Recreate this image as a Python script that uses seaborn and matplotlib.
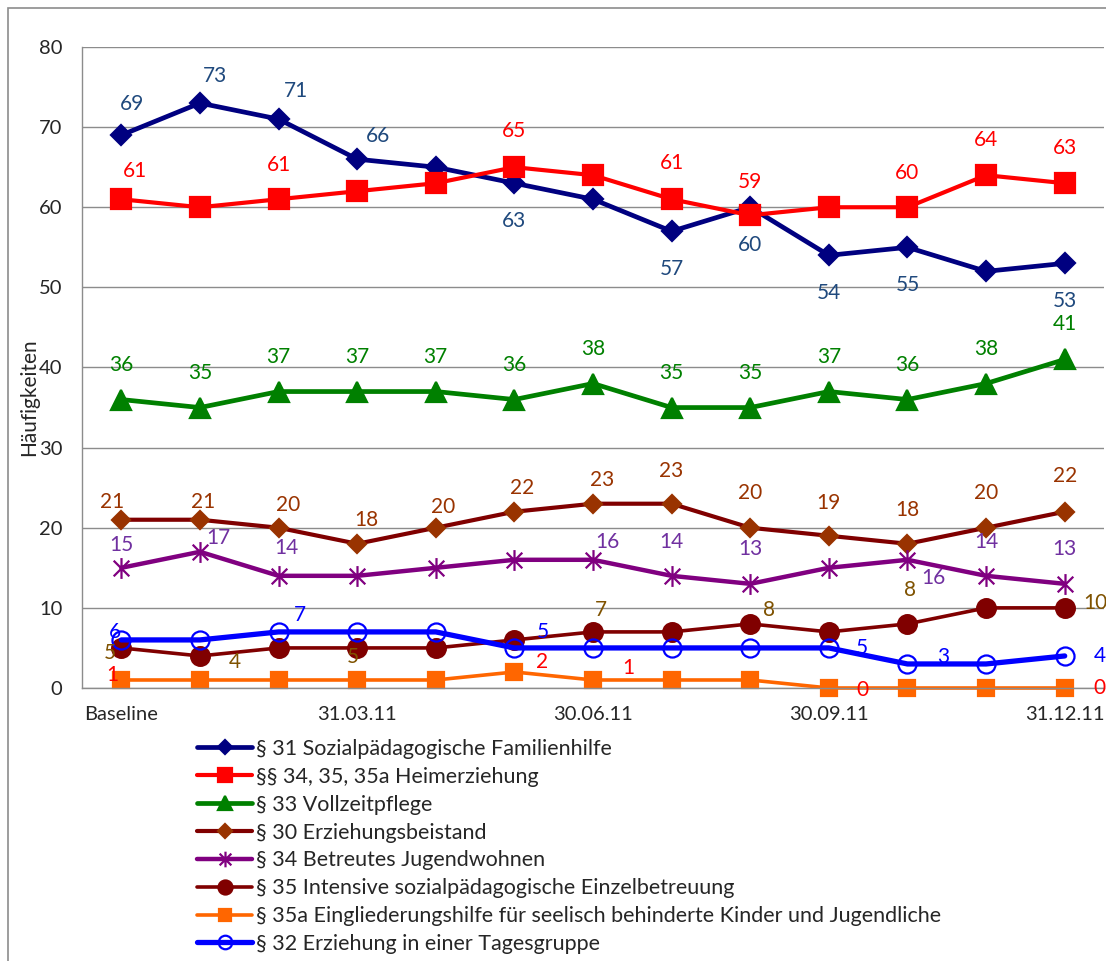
import numpy as np
import pandas as pd
import matplotlib
matplotlib.use("Agg")
import matplotlib.pyplot as plt
import seaborn as sns
from matplotlib.path import Path
from matplotlib.patches import Rectangle

# x categories (only every third one is labelled in the original)
x_labels = ["Baseline", "", "", "31.03.11", "", "", "30.06.11",
            "", "", "30.09.11", "", "", "31.12.11"]

# series values
familienhilfe = [69, 73, 71, 66, 65, 63, 61, 57, 60, 54, 55, 52, 53]
heimerziehung = [61, 60, 61, 62, 63, 65, 64, 61, 59, 60, 60, 64, 63]
vollzeitpflege = [36, 35, 37, 37, 37, 36, 38, 35, 35, 37, 36, 38, 41]
erziehungsbeistand = [21, 21, 20, 18, 20, 22, 23, 23, 20, 19, 18, 20, 22]
jugendwohnen = [15, 17, 14, 14, 15, 16, 16, 14, 13, 15, 16, 14, 13]
einzelbetreuung = [5, 4, 5, 5, 5, 6, 7, 7, 8, 7, 8, 10, 10]
eingliederungshilfe = [1, 1, 1, 1, 1, 2, 1, 1, 1, 0, 0, 0, 0]
tagesgruppe = [6, 6, 7, 7, 7, 5, 5, 5, 5, 5, 3, 3, 4]

series_names = [
    "§ 31 Sozialpädagogische Familienhilfe",
    "§§ 34, 35, 35a Heimerziehung",
    "§ 33 Vollzeitpflege",
    "§ 30 Erziehungsbeistand",
    "§ 34 Betreutes Jugendwohnen",
    "§ 35 Intensive sozialpädagogische Einzelbetreuung",
    "§ 35a Eingliederungshilfe für seelisch behinderte Kinder und Jugendliche",
    "§ 32 Erziehung in einer Tagesgruppe",
]
series_values = [familienhilfe, heimerziehung, vollzeitpflege, erziehungsbeistand,
                 jugendwohnen, einzelbetreuung, eingliederungshilfe, tagesgruppe]

# star marker like the Excel one (vertical bar + X)
star = Path([(0, -1), (0, 1), (-0.75, -0.75), (0.75, 0.75), (-0.75, 0.75), (0.75, -0.75)],
            [Path.MOVETO, Path.LINETO, Path.MOVETO, Path.LINETO, Path.MOVETO, Path.LINETO])

# styling per series: line colour, marker, size, face, edge, line width, label colour
styles = [
    dict(color="#000080", marker="D", ms=10, mfc="#000080", mec="#000080", lw=3.4, tc="#1F497D"),
    dict(color="#FF0000", marker="s", ms=14, mfc="#FF0000", mec="#FF0000", lw=3.0, tc="#FF0000"),
    dict(color="#008000", marker="^", ms=14, mfc="#008000", mec="#008000", lw=3.4, tc="#008000"),
    dict(color="#800000", marker="D", ms=9.5, mfc="#993300", mec="#993300", lw=3.0, tc="#993300"),
    dict(color="#800080", marker=star, ms=15, mfc="#800080", mec="#800080", lw=3.2, tc="#7030A0"),
    dict(color="#800000", marker="o", ms=13.5, mfc="#800000", mec="#800000", lw=2.6, tc="#7F5200"),
    dict(color="#FF6600", marker="s", ms=12, mfc="#FF6600", mec="#FF6600", lw=2.6, tc="#FF0000"),
    dict(color="#0000FF", marker="o", ms=13, mfc="none", mec="#0000FF", lw=3.8, tc="#0000FF"),
]

# which data labels are shown and where (index, dx px, dy px; dy > 0 means below)
label_spots = [
    [(0, 11, -31), (1, 15, -27), (2, 17, -28), (3, 21, -23), (5, 0, 38), (7, 0, 38),
     (8, 0, 38), (9, 0, 38), (10, 0, 38), (12, 0, 38)],
    [(0, 14, -28), (2, 0, -34), (5, 0, -36), (7, 0, -36), (8, 0, -33), (10, 0, -34),
     (11, 0, -35), (12, 0, -35)],
    [(i, 0, -35) for i in range(13)],
    [(0, -9, -18), (1, 3, -18), (2, 10, -23), (3, 9, -24), (4, 7, -21), (5, 8, -24),
     (6, 9, -24), (7, 0, -33), (8, 0, -35), (9, 0, -33), (10, 0, -34), (11, 0, -35), (12, 0, -36)],
    [(0, 0, -23), (1, 18, -14), (2, 8, -28), (6, 14, -18), (7, 0, -34), (8, 0, -35),
     (10, 26, 18), (11, 0, -34), (12, 0, -35)],
    [(0, -11, 5), (1, 35, 6), (3, -4, 9), (6, 8, -22), (8, 19, -14), (10, 3, -34), (12, 31, -5)],
    [(0, -9, -5), (5, 28, -10), (6, 35, -12), (9, 34, 2), (12, 35, 0)],
    [(0, -6, -8), (2, 21, -17), (5, 28, -16), (9, 33, 0), (10, 36, -7), (12, 35, 0)],
]

sns.set_style("white")
plt.rcParams["font.family"] = ["Lato", "DejaVu Sans"]

W, H = 1106, 961
fig = plt.figure(figsize=(W / 100, H / 100), dpi=100)
ax = fig.add_axes([82 / W, 1 - 688 / H, (1104 - 82) / W, (688 - 47) / H])

positions = np.arange(len(x_labels))
grey = "#8C8C8C"

for name, values, st in zip(series_names, series_values, styles):
    df = pd.DataFrame({"pos": positions, "value": values})
    sns.lineplot(data=df, x="pos", y="value", ax=ax, label=name, color=st["color"],
                 marker=st["marker"], markersize=st["ms"], markerfacecolor=st["mfc"],
                 markeredgecolor=st["mec"], markeredgewidth=1.6, linewidth=st["lw"],
                 clip_on=False)

for values, spots, st in zip(series_values, label_spots, styles):
    for i, dx, dy in spots:
        ax.annotate(str(values[i]), (positions[i], values[i]), xytext=(dx, -dy),
                    textcoords="offset pixels", ha="center", va="center",
                    fontsize=15, color=st["tc"], annotation_clip=False, zorder=10)

ax.set_xlim(-0.5, len(x_labels) - 0.5)
ax.set_ylim(0, 80)
ax.set_yticks(range(0, 81, 10))
ax.set_xticks(positions)
ax.set_xticklabels(x_labels)
ax.set_xticks([-0.5, 2.5, 5.5, 8.5, 11.5], minor=True)
ax.tick_params(axis="x", which="major", length=0, pad=13, labelsize=14.5)
ax.tick_params(axis="x", which="minor", length=5, width=1, color=grey, direction="out")
ax.tick_params(axis="y", length=5, width=1, color=grey, direction="out", pad=9, labelsize=14.5)
ax.grid(axis="y", color=grey, linewidth=1)
ax.set_axisbelow(True)
for side in ["top", "right"]:
    ax.spines[side].set_visible(False)
for side in ["left", "bottom"]:
    ax.spines[side].set_color(grey)
    ax.spines[side].set_linewidth(1)

ax.set_xlabel("")
ax.set_ylabel("Häufigkeiten", fontsize=15)
ax.yaxis.set_label_coords(-0.042, 0.454)

handles, labels = ax.get_legend_handles_labels()
ax.get_legend().remove()
fig.legend(handles, labels, loc="upper left", bbox_to_anchor=(197 / W, 1 - 739 / H),
           frameon=False, fontsize=15.5, handlelength=2.56, handletextpad=0.2,
           labelspacing=0.365, borderpad=0, borderaxespad=0, markerscale=0.75)

# outer chart border (left and top visible)
fig.add_artist(Rectangle((8 / W, -0.1), 1.2, 1.1 - 8 / H, transform=fig.transFigure,
                         fill=False, edgecolor=grey, linewidth=1.2))

fig.savefig("out.png", dpi=100)
